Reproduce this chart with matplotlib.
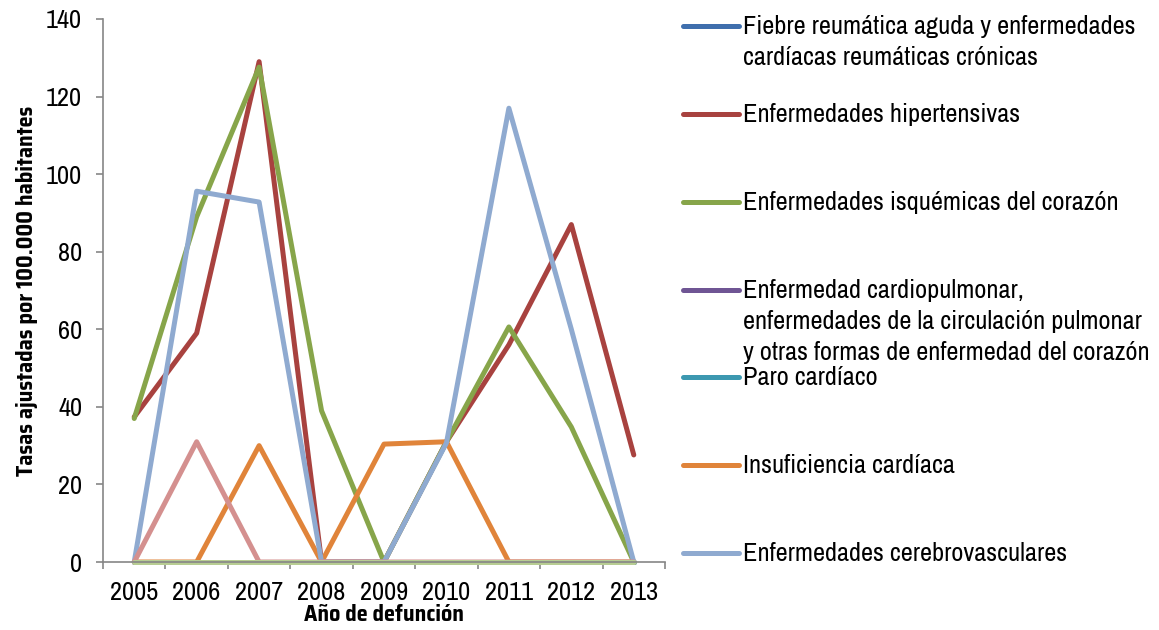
import matplotlib
matplotlib.use("Agg")
import matplotlib.pyplot as plt
from matplotlib.lines import Line2D
from matplotlib.ticker import FixedLocator, NullFormatter, FixedFormatter

plt.rcParams['font.family'] = ['Liberation Sans Narrow', 'Archivo Narrow', 'DejaVu Sans']
bold_family = ['Saira SemiCondensed', 'DejaVu Sans']

years = ['2005', '2006', '2007', '2008', '2009', '2010', '2011', '2012', '2013']

fiebre_reumatica = [0, 0, 0, 0, 0, 0, 0, 0, 0]
hipertensivas = [37.4, 59, 129, 0, 0, 31, 56, 87, 27.6]
isquemicas = [37, 89, 127.6, 39, 0, 31, 60.6, 34.8, 0]
cardiopulmonar = [0, 0, 0, 0, 0, 0, 0, 0, 0]
paro_cardiaco = [0, 0, 0, 0, 0, 0, 0, 0, 0]
insuficiencia = [0, 0, 30, 0, 30.4, 31, 0, 0, 0]
cerebrovasculares = [0, 95.6, 92.8, 0, 0, 30.7, 117, 60, 0]
serie_8 = [0, 31, 0, 0, 0, 0, 0, 0, 0]
serie_9 = [0, 0, 0, 0, 0, 0, 0, 0, 0]

labels = [
    "Fiebre reumática aguda y enfermedades\ncardíacas reumáticas crónicas",
    "Enfermedades hipertensivas",
    "Enfermedades isquémicas del corazón",
    "Enfermedad cardiopulmonar,\nenfermedades de la circulación pulmonar\ny otras formas de enfermedad del corazón",
    "Paro cardíaco",
    "Insuficiencia cardíaca",
    "Enfermedades cerebrovasculares",
]

series = [fiebre_reumatica, hipertensivas, isquemicas, cardiopulmonar,
          paro_cardiaco, insuficiencia, cerebrovasculares, serie_8, serie_9]
colors = ['#3F6FAD', '#A8423F', '#87A54A', '#6F5594', '#3C98B0',
          '#E0843A', '#8FAAD0', '#D4908F', '#B7CD92']

W, H = 1159, 630
fig = plt.figure(figsize=(W / 100, H / 100), dpi=100)
ax = fig.add_axes([103 / W, 1 - 562 / H, 562 / W, 543 / H])

x = list(range(len(years)))
lw = 3.6
for vals, c in zip(series, colors):
    ax.plot(x, vals, color=c, lw=lw, solid_capstyle='round',
            solid_joinstyle='round', clip_on=False)

ax.set_xlim(-0.5, len(years) - 0.5)
ax.set_ylim(0, 140)
ax.set_yticks(range(0, 141, 20))

# category boundaries carry tick marks, labels sit at category centers
ax.xaxis.set_major_locator(FixedLocator([i - 0.5 for i in range(len(years) + 1)]))
ax.xaxis.set_major_formatter(NullFormatter())
ax.xaxis.set_minor_locator(FixedLocator(x))
ax.xaxis.set_minor_formatter(FixedFormatter(years))

axis_color = '#868686'
for s in ['top', 'right']:
    ax.spines[s].set_visible(False)
for s in ['left', 'bottom']:
    ax.spines[s].set_color(axis_color)
    ax.spines[s].set_linewidth(1.2)

fs = 19
ax.tick_params(axis='x', which='major', length=5, width=1.2, color=axis_color,
               direction='out')
ax.tick_params(axis='x', which='minor', length=0, pad=14, labelsize=fs)
ax.tick_params(axis='y', length=5, width=1.2, color=axis_color, direction='out',
               pad=10, labelsize=fs)

ax.set_xlabel("Año de defunción", fontsize=16, fontweight='bold',
              family=bold_family)
ax.xaxis.set_label_coords(0.5, -0.078)
ax.set_ylabel("Tasas ajustadas por 100.000 habitantes", fontsize=16,
              fontweight='bold', family=bold_family, labelpad=6)

# legend drawn at fixed rows on the right
marker_x0, marker_x1, text_x = 683, 739, 743
row_y = [26, 114, 202, 290, 377, 465, 553]
for lab, c, yy in zip(labels, colors[:7], row_y):
    fy = 1 - yy / H
    fig.add_artist(Line2D([marker_x0 / W, marker_x1 / W], [fy, fy], color=c,
                          lw=lw, solid_capstyle='round'))
    fig.text(text_x / W, 1 - (yy - 11) / H, lab, fontsize=fs, va='top',
             ha='left', linespacing=1.42)

fig.savefig("out.png", dpi=100)
